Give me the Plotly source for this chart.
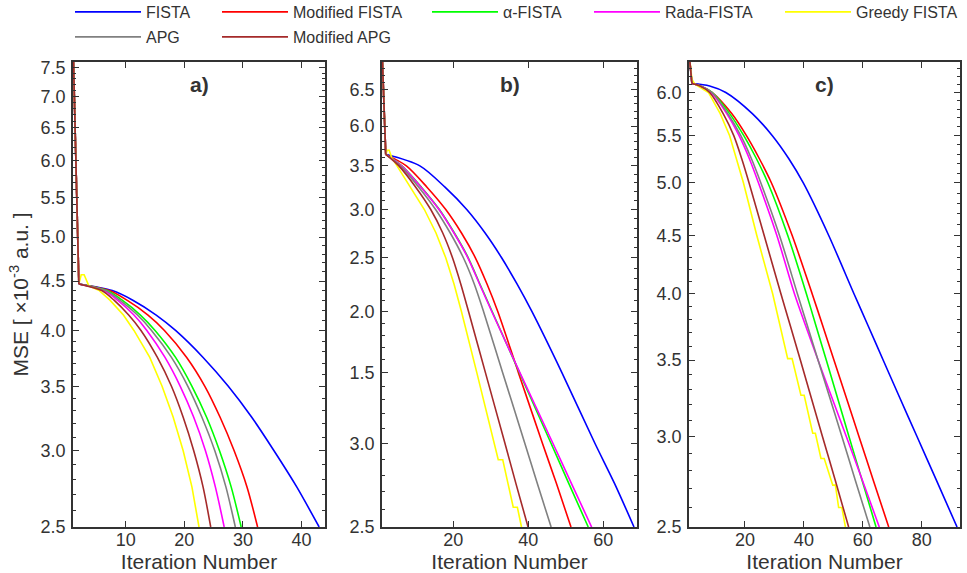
import math
import plotly.graph_objects as go

# ---------------- data (MSE in units of 1e-3) ----------------
names = ["FISTA", "Modified FISTA", "α-FISTA", "Rada-FISTA", "Greedy FISTA", "APG", "Modified APG"]
colors = ["#0000FF", "#FF0000", "#00FF00", "#FF00FF", "#FFFF00", "#808080", "#A52A2A"]

# panel a
a_mse = [8.0, 4.47, 4.4, 4.3, 4.15, 4.0, 3.75, 3.5, 3.25, 3.0, 2.75, 2.5]
a_fista = [1, 2, 7.7, 11.2, 15.2, 18.5, 23.2, 27.5, 31.5, 35.3, 39.2, 43.0]
a_mfista = [1, 2, 7.2, 10.2, 13.8, 16.6, 20.4, 23.5, 26.1, 28.5, 30.7, 32.5]
a_alpha = [1, 2, 6.8, 9.4, 12.5, 15.0, 18.5, 21.3, 23.8, 26.0, 28.0, 29.7]
a_rada = [1, 2, 6.3, 8.6, 11.4, 13.6, 16.7, 19.3, 21.6, 23.6, 25.3, 26.8]
a_apg = [1, 2, 6.6, 9.0, 12.0, 14.4, 17.8, 20.6, 23.0, 25.2, 27.1, 28.7]
a_mapg = [1, 2, 5.9, 8.0, 10.5, 12.6, 15.4, 17.8, 19.8, 21.6, 23.2, 24.5]
a_greedy_x = [1, 2, 2.4, 2.9, 3.7, 5.5, 7.3, 9.6, 11.4, 14.1, 16.2, 18.1, 19.8, 21.3, 22.5]
a_greedy_y = [8.0, 4.47, 4.57, 4.57, 4.45, 4.4, 4.3, 4.15, 4.0, 3.75, 3.5, 3.25, 3.0, 2.75, 2.5]

# panel b
b_mse = [7.1, 5.64, 5.5, 5.25, 5.0, 4.75, 4.5, 4.25, 4.0, 3.5, 3.0, 2.75, 2.5]
b_fista = [1, 2, 11.1, 17.8, 23.6, 28.5, 32.9, 37.0, 41.0, 49.0, 57.8, 63.0, 68.2]
b_mfista = [1, 2, 7.5, 13.0, 18.0, 22.2, 25.9, 29.0, 31.9, 37.4, 43.8, 47.5, 51.4]
b_alpha = [1, 2, 6.3, 11.5, 16.3, 20.3, 24.0, 27.1, 30.4, 37.7, 46.1, 50.8, 56.0]
b_rada = [1, 2, 6.2, 11.4, 16.2, 20.2, 23.9, 27.0, 30.3, 37.8, 46.6, 51.5, 56.9]
b_apg = [1, 2, 5.9, 10.8, 15.3, 19.2, 22.7, 25.6, 28.1, 33.2, 39.1, 42.4, 46.1]
b_mapg = [1, 2, 5.5, 10.0, 14.0, 17.2, 19.8, 22.0, 24.1, 28.6, 33.8, 36.7, 39.95]
b_greedy_x = [1, 2, 2.4, 2.9, 3.6, 5.0, 8.5, 12.3, 15.4, 18.0, 20.2, 22.2, 26.3, 30.9,
              32.0, 33.2, 34.5, 36.0, 37.1, 38.2]
b_greedy_y = [7.1, 5.64, 5.69, 5.69, 5.6, 5.5, 5.25, 5.0, 4.75, 4.5, 4.25, 4.0, 3.5, 3.0,
              2.895, 2.895, 2.75, 2.61, 2.61, 2.5]

# panel c
c_mse = [6.5, 6.11, 6.08, 6.0, 5.75, 5.5, 5.25, 5.0, 4.5, 4.0, 3.75, 3.5, 3.25, 3.0, 2.75, 2.5]
c_fista = [1, 2, 8.0, 13.5, 22.5, 29.3, 34.9, 39.8, 48.4, 57.0, 61.8, 66.9, 72.4, 78.4, 84.9, 92.0]
c_mfista = [1, 2, 5.0, 8.8, 15.5, 20.5, 24.9, 29.0, 36.0, 42.8, 46.4, 50.2, 54.3, 58.7, 63.5, 68.8]
c_alpha = [1, 2, 4.9, 8.8, 14.8, 19.6, 23.9, 27.8, 34.5, 40.85, 44.1, 47.6, 51.3, 55.3, 59.7, 64.5]
c_rada = [1, 2, 4.8, 8.5, 13.8, 18.0, 21.5, 24.6, 30.8, 36.8, 40.6, 44.8, 49.4, 54.4, 59.8, 65.6]
c_apg = [1, 2, 4.9, 8.8, 14.2, 18.6, 22.2, 25.4, 31.7, 37.8, 41.2, 44.8, 48.7, 52.9, 57.4, 62.4]
c_mapg = [1, 2, 4.6, 8.0, 12.6, 16.2, 18.9, 21.4, 26.5, 32.2, 35.4, 38.8, 42.4, 46.3, 50.6, 55.2]
c_greedy_x = [1, 2, 3.0, 7.6, 11.6, 14.8, 19.5, 24.0, 29.4, 34.5, 36.0, 39.0, 40.1, 43.0,
              43.9, 45.8, 46.9, 49.8, 50.7, 51.8, 52.9, 54.1]
c_greedy_y = [6.5, 6.16, 6.1, 6.0, 5.75, 5.5, 5.0, 4.5, 4.0, 3.51, 3.51, 3.26, 3.26, 3.02,
              3.02, 2.87, 2.87, 2.72, 2.72, 2.60, 2.60, 2.5]

# tick values / labels per panel
a_ytick = [2.5, 3.0, 3.5, 4.0, 4.5, 5.0, 5.5, 6.0, 6.5, 7.0, 7.5]
a_ytext = ["2.5", "3.0", "3.5", "4.0", "4.5", "5.0", "5.5", "6.0", "6.5", "7.0", "7.5"]
b_ytick = [2.5, 3.0, 3.5, 4.0, 4.5, 5.0, 5.5, 6.0, 6.5]
b_ytext = ["2.5", "3.0", "1.5", "2.0", "2.5", "3.0", "3.5", "6.0", "6.5"]
c_ytick = [2.5, 3.0, 3.5, 4.0, 4.5, 5.0, 5.5, 6.0]
c_ytext = ["2.5", "3.0", "3.5", "4.0", "4.5", "5.0", "5.5", "6.0"]
a_xtick = [10, 20, 30, 40]
b_xtick = [20, 40, 60]
c_xtick = [20, 40, 60, 80]

# ---------------- figure ----------------
W, H = 967, 573
ML, MR, MT, MB = 73, 7, 62, 46
PW = W - ML - MR
PH = H - MT - MB
FONT = "Liberation Sans, Arial, sans-serif"
INK = "#333333"

panels = [
    dict(series=[(a_fista, a_mse), (a_mfista, a_mse), (a_alpha, a_mse), (a_rada, a_mse),
                 (a_greedy_x, a_greedy_y), (a_apg, a_mse), (a_mapg, a_mse)],
         xr=[1, 44], yr=[2.5, 7.6], yt=a_ytick, ytt=a_ytext, xt=a_xtick,
         dom=[73, 325], label="a)"),
    dict(series=[(b_fista, b_mse), (b_mfista, b_mse), (b_alpha, b_mse), (b_rada, b_mse),
                 (b_greedy_x, b_greedy_y), (b_apg, b_mse), (b_mapg, b_mse)],
         xr=[1, 69], yr=[2.5, 6.9], yt=b_ytick, ytt=b_ytext, xt=b_xtick,
         dom=[382, 637], label="b)"),
    dict(series=[(c_fista, c_mse), (c_mfista, c_mse), (c_alpha, c_mse), (c_rada, c_mse),
                 (c_greedy_x, c_greedy_y), (c_apg, c_mse), (c_mapg, c_mse)],
         xr=[1, 93], yr=[2.5, 6.38], yt=c_ytick, ytt=c_ytext, xt=c_xtick,
         dom=[689, 960], label="c)"),
]

fig = go.Figure()
legend_pos = [(83, 12), (230, 12), (440, 12), (602, 12), (793, 12), (83, 37), (230, 37)]
legend_ids = ["legend", "legend2", "legend3", "legend4", "legend5", "legend6", "legend7"]

for p, pan in enumerate(panels):
    xa = "x" if p == 0 else f"x{p+1}"
    ya = "y" if p == 0 else f"y{p+1}"
    for k, (xs, ys) in enumerate(pan["series"]):
        col = colors[k]
        fig.add_trace(go.Scatter(x=xs[:2], y=ys[:2], mode="lines", xaxis=xa, yaxis=ya,
                                 line=dict(color=col, width=1.6), showlegend=False,
                                 hoverinfo="skip"))
        shape = "linear" if names[k] == "Greedy FISTA" else "spline"
        fig.add_trace(go.Scatter(x=xs[1:], y=ys[1:], mode="lines", xaxis=xa, yaxis=ya,
                                 name=names[k],
                                 line=dict(color=col, width=1.6, shape=shape, smoothing=0.8),
                                 showlegend=(p == 0), legend=legend_ids[k]))

layout = dict(
    width=W, height=H, plot_bgcolor="white", paper_bgcolor="white",
    margin=dict(l=ML, r=MR, t=MT, b=MB, autoexpand=False),
    font=dict(family=FONT, color=INK, size=18),
)

annotations = []
for p, pan in enumerate(panels):
    xk = "xaxis" if p == 0 else f"xaxis{p+1}"
    yk = "yaxis" if p == 0 else f"yaxis{p+1}"
    yanchor = "y" if p == 0 else f"y{p+1}"
    xanchor = "x" if p == 0 else f"x{p+1}"
    d0 = max(0.0, (pan["dom"][0] - ML) / PW)
    d1 = min(1.0, (pan["dom"][1] - ML) / PW)
    lo, hi = pan["yr"]
    minors = [v / 10 for v in range(25, int(hi * 10) + 1) if v % 5 != 0]
    layout[xk] = dict(domain=[d0, d1], anchor=yanchor, range=pan["xr"],
                      tickmode="array", tickvals=pan["xt"], ticks="inside", ticklen=6,
                      tickwidth=1.3, tickcolor=INK, showline=True, linecolor=INK,
                      linewidth=1.6, mirror="ticks", showgrid=False, zeroline=False,
                      ticklabelstandoff=-4,
                      tickfont=dict(size=18, color=INK),
                      title=dict(text="Iteration Number", font=dict(size=21, color=INK),
                                 standoff=0))
    layout[yk] = dict(domain=[0, 1], anchor=xanchor, type="log",
                      range=[math.log10(lo), math.log10(hi)],
                      tickmode="array", tickvals=pan["yt"], ticktext=pan["ytt"],
                      ticks="inside", ticklen=6, tickwidth=1.3, tickcolor=INK,
                      minor=dict(tickmode="array", tickvals=minors, ticks="inside",
                                 ticklen=3, tickwidth=1, tickcolor=INK),
                      showline=True, linecolor=INK, linewidth=1.6, mirror="ticks",
                      showgrid=False, zeroline=False, ticklabelstandoff=2,
                      tickfont=dict(size=18, color=INK))
    annotations.append(dict(text="<b>" + pan["label"] + "</b>", xref=f"{xanchor} domain",
                            yref=f"{yanchor} domain", x=0.5, y=1, yshift=-22,
                            showarrow=False, font=dict(size=21, color=INK),
                            xanchor="center", yanchor="middle"))

layout["yaxis"]["title"] = dict(text="MSE [ ×10<sup>-3</sup> a.u. ]",
                                font=dict(size=21, color=INK), standoff=6)

for lid, (px, py) in zip(legend_ids, legend_pos):
    layout[lid] = dict(x=(px - 13 - ML) / PW, xref="paper",
                       y=1 + (MT - py) / PH, yref="paper",
                       xanchor="left", yanchor="middle", itemwidth=66,
                       orientation="h",
                       bgcolor="rgba(0,0,0,0)", borderwidth=0,
                       font=dict(size=16, color=INK, family=FONT))

layout["annotations"] = annotations
fig.update_layout(**layout)
fig.write_html("out.html", config={"displayModeBar": False},
               post_script="document.body.style.margin='0';document.body.style.padding='0';")
